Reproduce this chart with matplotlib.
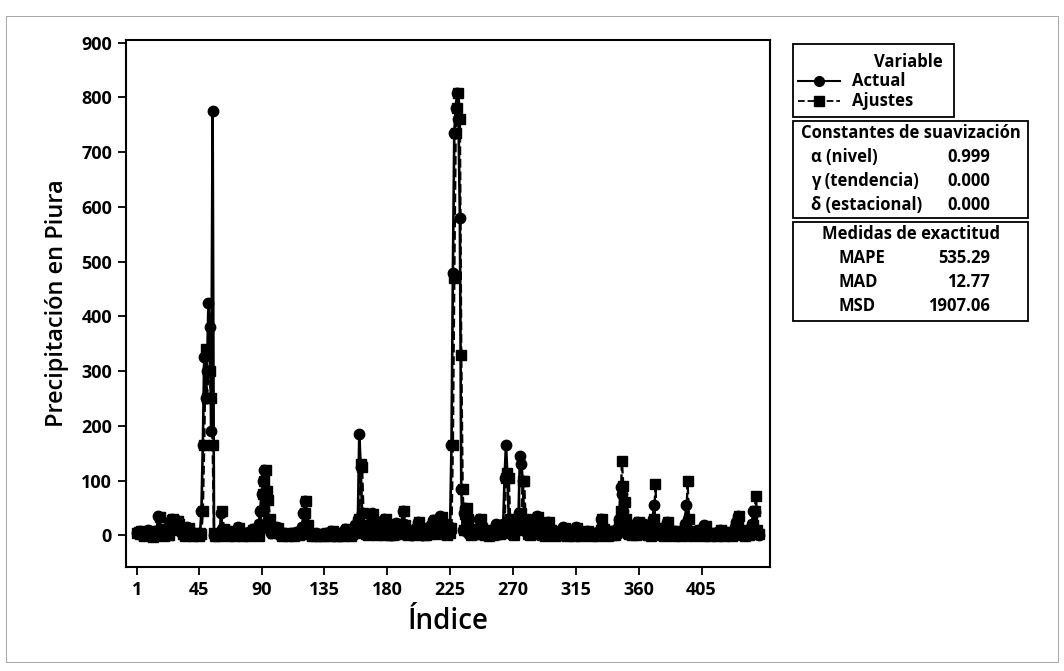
import numpy as np
import matplotlib
matplotlib.use("Agg")
import matplotlib.pyplot as plt
from matplotlib.patches import Rectangle
from matplotlib.lines import Line2D

plt.rcParams['font.family'] = ['Open Sans', 'DejaVu Sans']

# weekly precipitation (Actual), index 1..446
actual = [
    5, 3, 8, 2, 0, 6, 4, 1, 9, 3, 0, 2, 5, 1, 8,
    35, 12, 4, 0, 3, 6, 2, 1,
    20, 28, 30, 25, 18, 27, 22, 10,
    8, 4, 0, 2, 12, 15, 6, 3, 0, 1, 4, 2, 0, 5, 3,
    45, 165, 325, 250, 300, 425, 380, 190, 775, 0,
    2, 0, 3, 1, 40, 12,
    5, 2, 0, 3, 8, 4, 1, 0, 2, 6, 15,
    5, 3, 0, 2, 1, 4, 0, 6, 3, 10, 12, 8, 2, 0,
    20, 45, 75, 100, 120, 80, 65, 30, 10,
    5, 8, 12, 10, 15, 6, 3, 0, 2, 1, 4, 0, 3, 2, 5, 0, 1, 3, 6, 2, 4, 8, 15,
    40, 62, 20,
    5, 3, 0, 1, 2, 0, 4, 2, 0, 1, 3, 0, 2, 5, 1, 0, 3, 8, 2, 0,
    1, 0, 4, 2, 0, 3, 1, 12, 6, 2, 0, 4, 10, 5,
    18, 10, 30, 185, 125, 40, 8,
    4, 2, 10, 20, 12, 40, 25,
    5, 2, 8, 3, 15, 6, 2, 30, 12,
    4, 2, 8, 1, 3, 6, 22, 10,
    3, 5, 12, 45, 20,
    4, 2, 10, 6, 3, 1, 8, 12, 5, 25, 15,
    3, 1, 6, 2, 8, 4, 10, 18, 6, 28, 12,
    4, 10, 20, 35, 22, 8, 4, 2, 10, 5, 15,
    165, 480, 735, 780, 808, 760, 580, 85, 10,
    40, 50, 30,
    5, 2, 10, 4, 8, 3, 12, 6, 30, 15,
    4, 2, 8, 3, 0, 5, 10, 2, 6, 4, 20, 8,
    3, 6, 15, 20, 105, 165, 110, 30,
    8, 4, 2, 10, 25, 20, 40, 145, 130, 100, 30, 10,
    4, 2, 12, 6, 3, 8, 30, 35, 12,
    5, 2, 8, 0, 3, 6, 25, 10,
    4, 2, 0, 3, 6, 1, 8, 2, 5, 15,
    3, 0, 2, 5, 1, 4, 0, 2, 15, 5,
    3, 0, 2, 6, 1, 4, 8, 2, 0, 3, 1, 5, 2, 0, 4, 10, 30, 12,
    4, 2, 0, 6, 3, 1, 8, 2, 5, 10,
    10, 30, 88, 75, 45, 20, 5,
    3, 8, 2, 15, 6, 2, 4, 24, 10,
    3, 6, 12, 20, 8,
    2, 5, 0, 10, 30, 55, 15,
    4, 2, 8, 3, 0, 5, 12, 25, 6, 2, 4, 0, 3, 8, 1, 5, 2, 0, 6, 10,
    20, 55, 30,
    8, 3, 0, 5, 2, 6, 4, 10, 2, 0, 8, 18, 6,
    2, 0, 4, 3, 1, 5, 0, 2, 6, 10,
    3, 0, 4, 2, 6, 1, 3, 0, 5, 8, 15, 25, 36, 10,
    4, 2, 0, 3, 6, 1, 5, 12, 20, 45, 42, 5, 2, 0,
]

# fitted values (Ajustes), same index
ajustes = [
    4, 6, 2, 7, 3, -2, 5, 3, 0, 8, 2, -3, 1, 4, 0,
    7, 33, 11, 2, -2, 3, 5, 1,
    0, 20, 27, 29, 25, 17, 26, 21,
    9, 7, 3, -2, 1, 11, 14, 5, 2, -1, 0, 3, 1, -2, 4,
    2, 45, 165, 340, 250, 300, 300, 250, 165, 5,
    -2, 1, -1, 2, 0, 45,
    11, 4, 1, -2, 2, 7, 3, 0, -1, 1, 5,
    14, 4, 2, -1, 1, 0, 3, -1, 5, 2, 9, 11, 7, 1,
    -1, 19, 45, 75, 100, 120, 80, 65, 30,
    9, 4, 7, 11, 9, 14, 5, 2, -1, 1, 0, 3, -1, 2, 1, 4, -1, 0, 2, 5, 1, 3, 7,
    14, 40, 62,
    19, 4, 2, -1, 0, 1, -1, 3, 1, -1, 0, 2, -1, 1, 4, 0, -1, 2, 7, 1,
    -1, 0, -1, 3, 1, -1, 2, 0, 11, 5, 1, -1, 3, 9,
    4, 17, 9, 29, 130, 125, 40,
    7, 3, 1, 9, 19, 11, 39,
    24, 4, 1, 7, 2, 14, 5, 1, 29,
    11, 3, 1, 7, 0, 2, 5, 21,
    9, 2, 4, 11, 45,
    19, 3, 1, 9, 5, 2, 0, 7, 11, 4, 24,
    14, 2, 0, 5, 1, 7, 3, 9, 17, 5, 27,
    11, 3, 9, 19, 34, 21, 7, 3, 1, 9, 4,
    14, 165, 470, 735, 780, 808, 760, 330, 85,
    9, 39, 50,
    29, 4, 1, 9, 3, 7, 2, 11, 5, 29,
    14, 3, 1, 7, 2, -1, 4, 9, 1, 5, 3, 19,
    7, 2, 5, 14, 19, 105, 113, 105,
    29, 7, 3, 1, 9, 24, 19, 39, 40, 100, 100, 30,
    9, 3, 1, 11, 5, 2, 7, 29, 34,
    11, 4, 1, 7, -1, 2, 5, 24,
    9, 3, 1, -1, 2, 5, 0, 7, 1, 4,
    14, 2, -1, 1, 4, 0, 3, -1, 1, 14,
    4, 2, -1, 1, 5, 0, 3, 7, 1, -1, 2, 0, 4, 1, -1, 3, 9, 29,
    11, 3, 1, -1, 5, 2, 0, 7, 1, 4,
    9, 20, 45, 135, 90, 60, 30,
    4, 2, 7, 1, 14, 5, 1, 3, 24,
    9, 2, 5, 11, 19,
    7, 1, 4, -1, 9, 29, 93,
    14, 3, 1, 7, 2, -1, 4, 11, 24, 5, 1, 3, -1, 2, 7, 0, 4, 1, -1, 5,
    9, 19, 99,
    29, 7, 2, -1, 4, 1, 5, 3, 9, 1, -1, 7, 17,
    5, 1, -1, 3, 2, 0, 4, -1, 1, 5,
    9, 2, -1, 3, 1, 5, 0, 2, -1, 4, 7, 14, 24, 35,
    9, 3, 1, -1, 2, 5, 0, 4, 11, 19, 45, 71, 10, 3,
]

indice = np.arange(1, len(actual) + 1)
x_ticks = [1, 45, 90, 135, 180, 225, 270, 315, 360, 405]
y_ticks = [0, 100, 200, 300, 400, 500, 600, 700, 800, 900]

constantes = [("α (nivel)", "0.999"), ("γ (tendencia)", "0.000"), ("δ (estacional)", "0.000")]
medidas = [("MAPE", "535.29"), ("MAD", "12.77"), ("MSD", "1907.06")]

W, H = 1064, 671
fig = plt.figure(figsize=(W / 100, H / 100), dpi=100)
ax = fig.add_axes([126 / W, 1 - 567 / H, (770 - 126) / W, (567 - 40) / H])

ax.plot(indice, actual, color='black', lw=1.9, marker='o', ms=7.5, zorder=3)
ax.plot(indice, ajustes, color='black', lw=1.7, ls='--', marker='s', ms=7.5, zorder=2)

ax.set_xlim(-7, 454)
ax.set_ylim(-58, 905)
ax.set_xticks(x_ticks)
ax.set_yticks(y_ticks)
ax.tick_params(direction='out', length=6, width=1.3, labelsize=13, colors='black', pad=4)
for lab in ax.get_xticklabels() + ax.get_yticklabels():
    lab.set_fontweight('bold')
for sp in ax.spines.values():
    sp.set_linewidth(1.5)
ax.set_xlabel("Índice", fontsize=20, fontweight='semibold', labelpad=6)
ax.set_ylabel("Precipitación en Piura", fontsize=17, fontweight='semibold', labelpad=9)


def fx(px):
    return px / W


def fy(py):
    return 1 - py / H


def box(x0, y0, x1, y1):
    fig.patches.append(Rectangle((fx(x0), fy(y1)), fx(x1) - fx(x0), fy(y0) - fy(y1),
                                 transform=fig.transFigure, fill=False, ec='black', lw=1.3))


fs = 12

# faint border of the scanned page
fig.patches.append(Rectangle((fx(6), fy(662)), fx(1058) - fx(6), fy(16) - fy(662),
                             transform=fig.transFigure, fill=False, ec='0.65', lw=0.7))

# box 1: variable legend
box(793, 44, 954, 117)
fig.text(fx(908), fy(62), "Variable", ha='center', va='center', fontsize=fs, fontweight='bold')
fig.add_artist(Line2D([fx(798), fx(840)], [fy(81), fy(81)], transform=fig.transFigure,
                      color='black', lw=1.5))
fig.add_artist(Line2D([fx(819)], [fy(81)], transform=fig.transFigure,
                      color='black', marker='o', ms=7))
fig.add_artist(Line2D([fx(798), fx(840)], [fy(101), fy(101)], transform=fig.transFigure,
                      color='black', lw=1.3, ls='--'))
fig.add_artist(Line2D([fx(819)], [fy(101)], transform=fig.transFigure,
                      color='black', marker='s', ms=7))
fig.text(fx(852), fy(81), "Actual", ha='left', va='center', fontsize=fs, fontweight='bold')
fig.text(fx(852), fy(101), "Ajustes", ha='left', va='center', fontsize=fs, fontweight='bold')

# box 2: smoothing constants
box(793, 121, 1028, 218)
fig.text(fx(911), fy(133), "Constantes de suavización", ha='center', va='center',
         fontsize=fs, fontweight='bold')
for i, (k, v) in enumerate(constantes):
    yy = 157 + i * 24
    fig.text(fx(811), fy(yy), k, ha='left', va='center', fontsize=fs, fontweight='bold')
    fig.text(fx(947), fy(yy), v, ha='left', va='center', fontsize=fs, fontweight='bold')

# box 3: accuracy measures
box(793, 222, 1028, 321)
fig.text(fx(911), fy(234), "Medidas de exactitud", ha='center', va='center',
         fontsize=fs, fontweight='bold')
for i, (k, v) in enumerate(medidas):
    yy = 258 + i * 24
    fig.text(fx(838), fy(yy), k, ha='left', va='center', fontsize=fs, fontweight='bold')
    fig.text(fx(990), fy(yy), v, ha='right', va='center', fontsize=fs, fontweight='bold')

fig.savefig("out.png", dpi=100)
